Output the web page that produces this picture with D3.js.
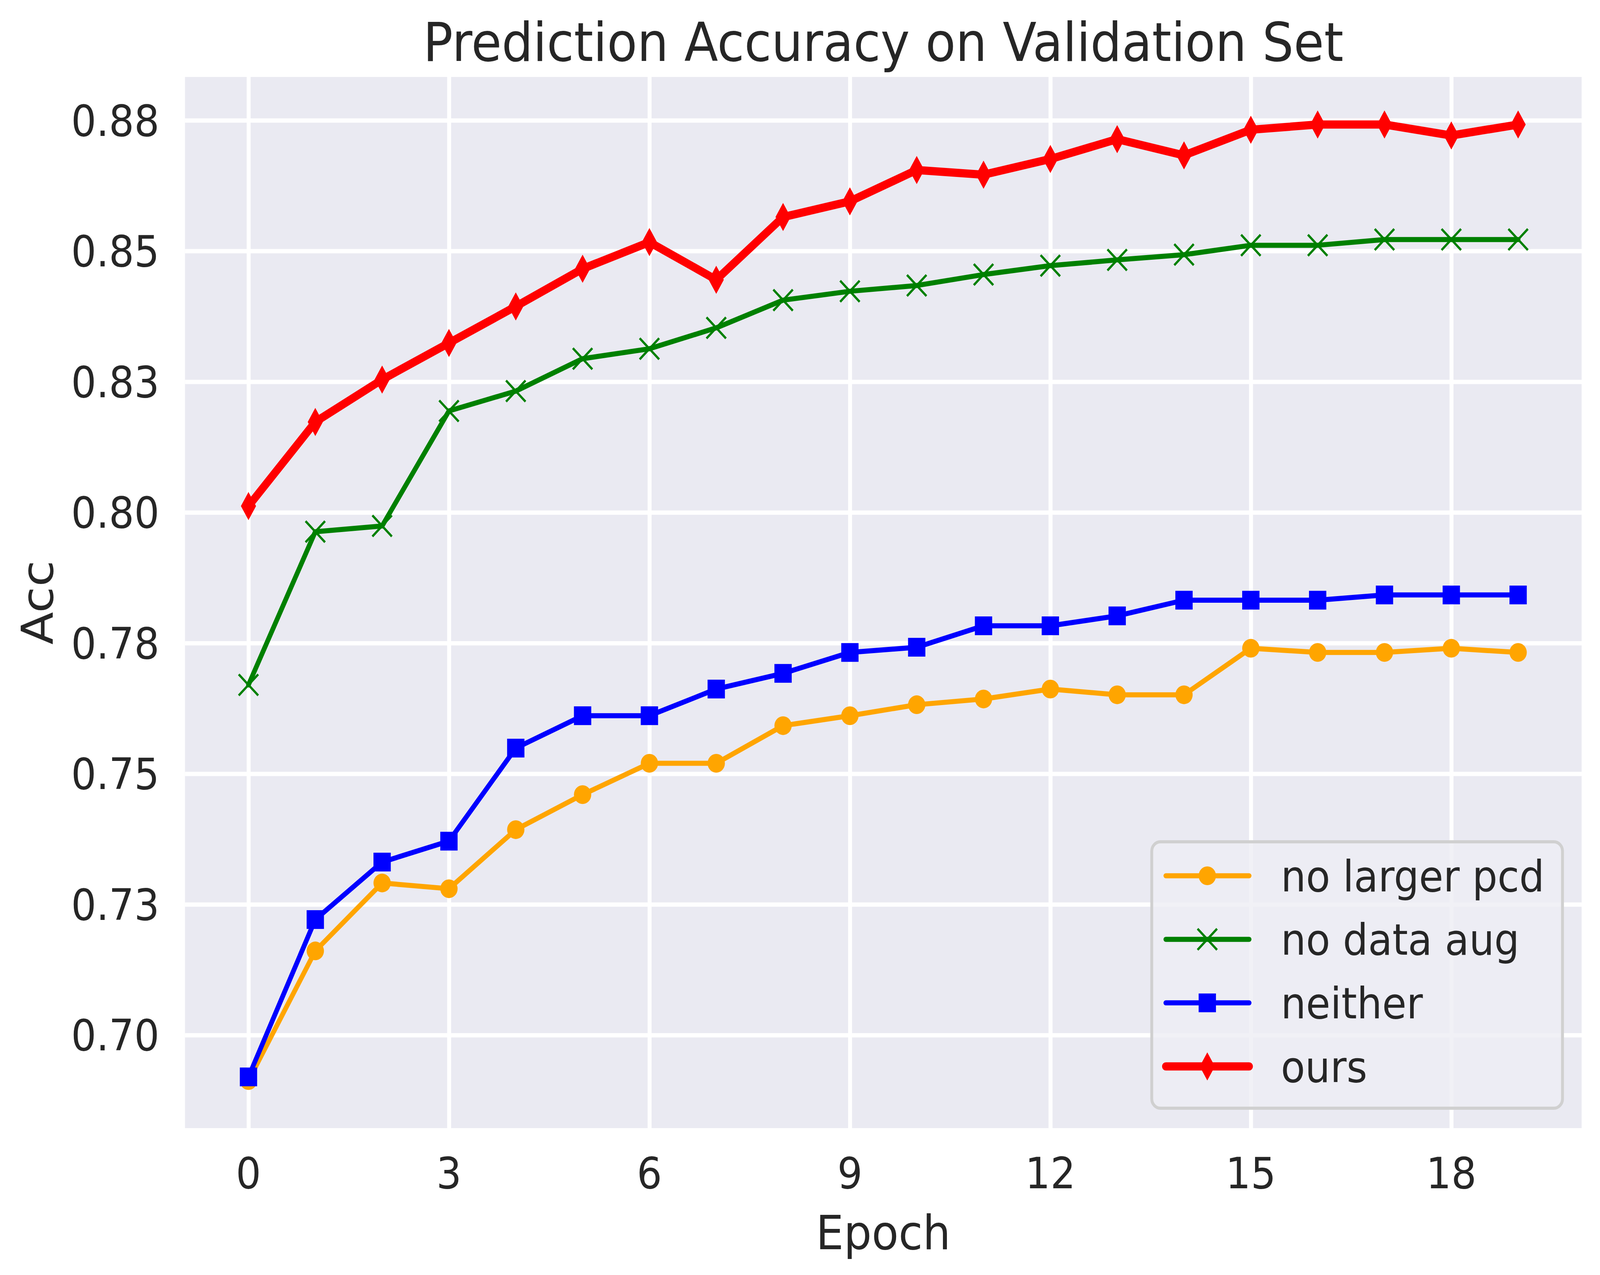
<!DOCTYPE html>
<html>
<head>
<meta charset="utf-8">
<script src="https://cdn.jsdelivr.net/npm/d3@7"></script>
<style>
  html, body { margin: 0; padding: 0; background: #ffffff; overflow: hidden; width: 100%; height: 100%; }
  svg { display: block; width: 100vw; height: 100vh; }
  text { font-family: "DejaVu Sans", sans-serif; fill: #262626; }
</style>
</head>
<body>
<svg id="chart" viewBox="0 0 4437 3264" preserveAspectRatio="none"></svg>
<script>
/************************************ Data *******************************/
var epochs = d3.range(0, 20);
var seriesNames = ["no larger pcd", "no data aug", "neither", "ours"];
var noLargerPcd = [0.6913, 0.7161, 0.7291, 0.7280, 0.7393, 0.7460, 0.7520, 0.7520, 0.7592, 0.7611,
                   0.7632, 0.7643, 0.7662, 0.7651, 0.7651, 0.7740, 0.7732, 0.7732, 0.7740, 0.7732];
var noDataAug   = [0.7670, 0.7963, 0.7974, 0.8194, 0.8232, 0.8294, 0.8313, 0.8353, 0.8406, 0.8423,
                   0.8434, 0.8455, 0.8472, 0.8483, 0.8493, 0.8511, 0.8511, 0.8522, 0.8522, 0.8522];
var neither     = [0.6920, 0.7221, 0.7331, 0.7371, 0.7549, 0.7611, 0.7611, 0.7662, 0.7692, 0.7732,
                   0.7742, 0.7783, 0.7783, 0.7802, 0.7832, 0.7832, 0.7832, 0.7842, 0.7842, 0.7842];
var ours        = [0.8012, 0.8173, 0.8254, 0.8324, 0.8394, 0.8466, 0.8517, 0.8445, 0.8565, 0.8595,
                   0.8655, 0.8646, 0.8676, 0.8714, 0.8683, 0.8732, 0.8742, 0.8742, 0.8721, 0.8742];
var xTicks = [0, 3, 6, 9, 12, 15, 18];
var yTicks = [0.700, 0.725, 0.750, 0.775, 0.800, 0.825, 0.850, 0.875];
var yTickLabels = ["0.70", "0.73", "0.75", "0.78", "0.80", "0.83", "0.85", "0.88"];

/************************************ Layout *******************************/
// drawn in a fixed 4437x3264 coordinate space, stretched to whatever the window is
var svg = d3.select("#chart");
var plotLeft = 513, plotRight = 4386, plotTop = 197, plotBottom = 2888;

var x = d3.scaleLinear().domain([-0.95, 19.95]).range([plotLeft, plotRight]);
var y = d3.scaleLinear().domain([0.6822, 0.8833]).range([plotBottom, plotTop]);

var styles = [
	{ color: "#FFA500", width: 13, marker: "circle" },
	{ color: "#008000", width: 13, marker: "x" },
	{ color: "#0000FF", width: 13, marker: "square" },
	{ color: "#FF0000", width: 21, marker: "thin_diamond" }
];
var allSeries = [noLargerPcd, noDataAug, neither, ours];

// background + grid
svg.append("rect")
	.attr("x", plotLeft).attr("y", plotTop)
	.attr("width", plotRight - plotLeft).attr("height", plotBottom - plotTop)
	.attr("fill", "#EAEAF2");

var xAxis = d3.axisBottom(x).tickValues(xTicks).tickSize(-(plotBottom - plotTop)).tickPadding(0).tickFormat("");
var yAxis = d3.axisLeft(y).tickValues(yTicks).tickSize(-(plotRight - plotLeft)).tickPadding(0).tickFormat("");

svg.append("g").attr("transform", "translate(0," + plotBottom + ")").call(xAxis)
	.call(function(g) { g.select(".domain").remove(); })
	.selectAll("line").attr("stroke", "#ffffff").attr("stroke-width", 11);
svg.append("g").attr("transform", "translate(" + plotLeft + ",0)").call(yAxis)
	.call(function(g) { g.select(".domain").remove(); })
	.selectAll("line").attr("stroke", "#ffffff").attr("stroke-width", 11);

// tick labels
svg.append("g").selectAll("text").data(xTicks).enter().append("text")
	.attr("x", function(d) { return x(d); })
	.attr("y", 3042)
	.attr("text-anchor", "middle")
	.style("font-size", "110px")
	.text(function(d) { return d; });

svg.append("g").selectAll("text").data(yTicks).enter().append("text")
	.attr("x", 442)
	.attr("y", function(d) { return y(d); })
	.attr("dy", "0.36em")
	.attr("text-anchor", "end")
	.style("font-size", "110px")
	.text(function(d, i) { return yTickLabels[i]; });

// titles
svg.append("text")
	.attr("x", (plotLeft + plotRight) / 2).attr("y", 156)
	.attr("text-anchor", "middle")
	.style("font-size", "137px")
	.text("Prediction Accuracy on Validation Set");
svg.append("text")
	.attr("x", (plotLeft + plotRight) / 2).attr("y", 3198)
	.attr("text-anchor", "middle")
	.style("font-size", "122px")
	.text("Epoch");
svg.append("text")
	.attr("transform", "translate(146," + ((plotTop + plotBottom) / 2) + ") rotate(-90)")
	.attr("text-anchor", "middle")
	.style("font-size", "122px")
	.text("Acc");

/************************************ Markers *******************************/
function drawMarker(g, kind, color) {
	if (kind === "circle") {
		g.append("circle").attr("r", 24).attr("fill", color);
	} else if (kind === "square") {
		g.append("rect").attr("x", -24).attr("y", -24).attr("width", 48).attr("height", 48).attr("fill", color);
	} else if (kind === "x") {
		g.append("path").attr("d", "M-27,-27L27,27M-27,27L27,-27")
			.attr("stroke", color).attr("stroke-width", 6).attr("fill", "none");
	} else {
		g.append("path").attr("d", "M0,-36L21,0L0,36L-21,0Z").attr("fill", color);
	}
}

/************************************ Lines *******************************/
var line = d3.line()
	.x(function(d, i) { return x(epochs[i]); })
	.y(function(d) { return y(d); });

allSeries.forEach(function(values, s) {
	var st = styles[s];
	var g = svg.append("g");
	g.append("path").datum(values)
		.attr("d", line)
		.attr("fill", "none")
		.attr("stroke", st.color)
		.attr("stroke-width", st.width)
		.attr("stroke-linejoin", "round")
		.attr("stroke-linecap", "round");
	values.forEach(function(v, i) {
		var m = g.append("g").attr("transform", "translate(" + x(epochs[i]) + "," + y(v) + ")");
		drawMarker(m, st.marker, st.color);
	});
});

/************************************ Legend *******************************/
var legend = svg.append("g");
legend.append("rect")
	.attr("x", 3194).attr("y", 2155)
	.attr("width", 4333 - 3194).attr("height", 2837 - 2155)
	.attr("rx", 24).attr("ry", 24)
	.attr("fill", "#EEEEF4").attr("fill-opacity", 0.8)
	.attr("stroke", "#D0D0D0").attr("stroke-width", 8);

var rowY = d3.scaleLinear().domain([0, 3]).range([2242, 2730]);
seriesNames.forEach(function(name, i) {
	var st = styles[i];
	var row = legend.append("g").attr("transform", "translate(0," + rowY(i) + ")");
	row.append("line")
		.attr("x1", 3233).attr("x2", 3464)
		.attr("stroke", st.color).attr("stroke-width", st.width)
		.attr("stroke-linecap", "round");
	drawMarker(row.append("g").attr("transform", "translate(3348,0)"), st.marker, st.color);
	row.append("text")
		.attr("x", 3552).attr("dy", "0.36em")
		.style("font-size", "110px")
		.text(name);
});
</script>
</body>
</html>
